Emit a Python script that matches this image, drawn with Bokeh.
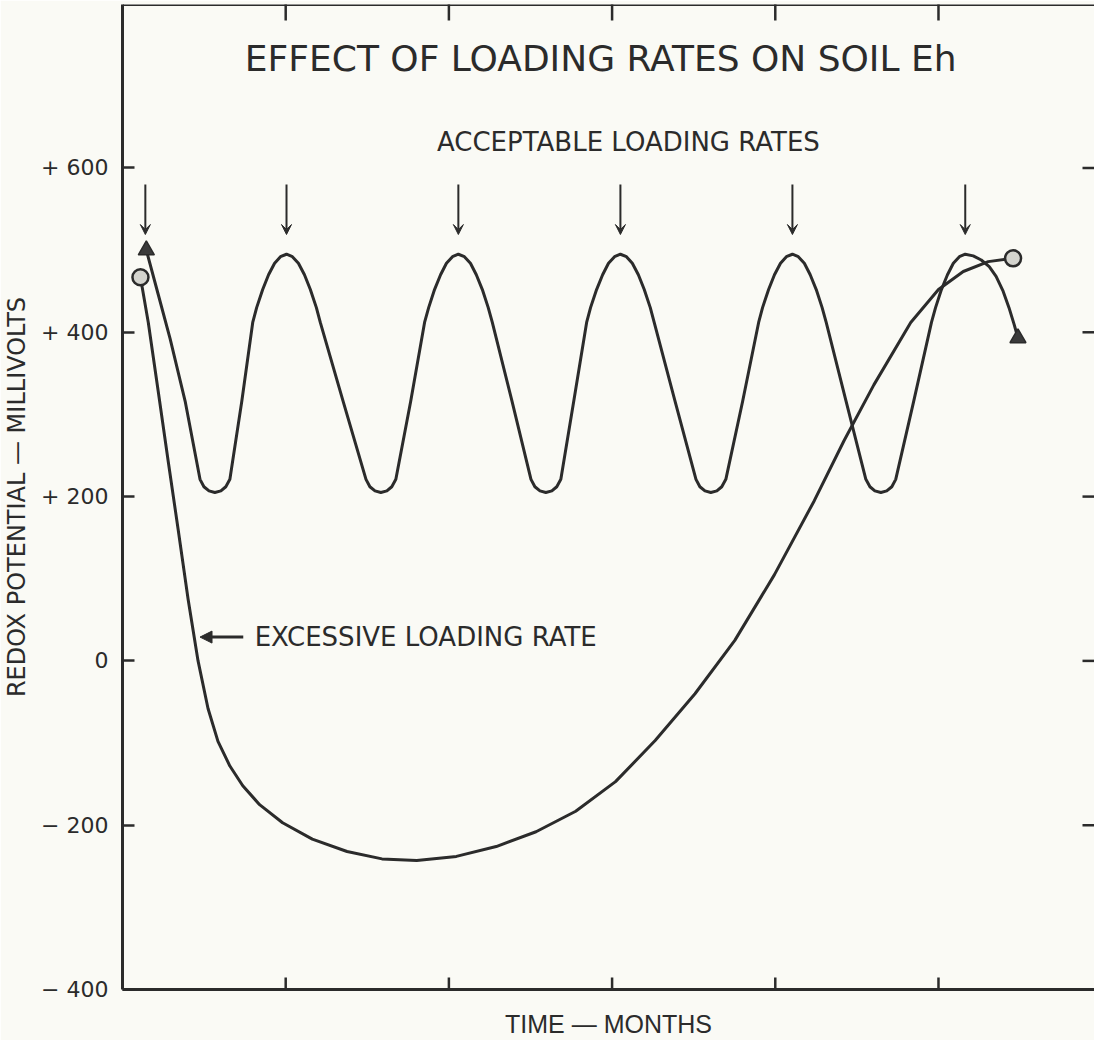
import math
from bokeh.plotting import figure
from bokeh.models import (Range1d, FixedTicker, Label, Arrow, VeeHead, NormalHead,
                          ColumnDataSource, Span)
from bokeh.embed import file_html
from bokeh.resources import INLINE

# ---------------- data (months, millivolts) ----------------
acceptable_month = [
    0.146, 0.219, 0.292, 0.384, 0.475, 0.499, 0.530, 0.566, 0.603, 0.633, 0.658,
    0.731, 0.798, 0.822, 0.859, 0.895, 0.932, 0.968, 1.005, 1.041, 1.078, 1.115, 1.151,
    1.188, 1.212, 1.352, 1.492, 1.516, 1.547, 1.583, 1.620, 1.650, 1.675, 1.766, 1.851,
    1.876, 1.912, 1.949, 1.985, 2.022, 2.058, 2.095, 2.132, 2.168, 2.205, 2.241, 2.266,
    2.387, 2.503, 2.527, 2.558, 2.594, 2.631, 2.661, 2.686, 2.765, 2.844, 2.868, 2.905,
    2.942, 2.978, 3.015, 3.051, 3.088, 3.124, 3.161, 3.197, 3.234, 3.258, 3.386, 3.514,
    3.538, 3.569, 3.605, 3.642, 3.672, 3.697, 3.800, 3.898, 3.922, 3.959, 3.995, 4.032,
    4.068, 4.105, 4.141, 4.178, 4.214, 4.251, 4.287, 4.312, 4.434, 4.555, 4.580, 4.610,
    4.647, 4.683, 4.714, 4.738, 4.848, 4.957, 4.982, 5.018, 5.055, 5.091, 5.128, 5.164,
    5.213, 5.262, 5.311, 5.353, 5.396, 5.432, 5.463, 5.487]
acceptable_mv = [
    500, 446, 392, 316, 221, 212, 207, 205, 207, 212, 221,
    316, 412, 430, 452, 470, 484, 492, 495, 492, 484, 470, 452,
    430, 412, 316, 221, 212, 207, 205, 207, 212, 221, 316, 412,
    430, 452, 470, 484, 492, 495, 492, 484, 470, 452, 430, 412,
    316, 221, 212, 207, 205, 207, 212, 221, 316, 412, 430, 452,
    470, 484, 492, 495, 492, 484, 470, 452, 430, 412, 316, 221,
    212, 207, 205, 207, 212, 221, 316, 412, 430, 452, 470, 484,
    492, 495, 492, 484, 470, 452, 430, 412, 316, 221, 212, 207,
    205, 207, 212, 221, 316, 412, 430, 452, 470, 484, 492, 495,
    493, 488, 480, 468, 450, 430, 410, 393]

excessive_month = [
    0.110, 0.158, 0.219, 0.280, 0.341, 0.402, 0.463, 0.524, 0.585, 0.658, 0.737, 0.840,
    0.981, 1.163, 1.376, 1.590, 1.803, 2.046, 2.290, 2.534, 2.777, 3.021, 3.264, 3.508,
    3.752, 3.995, 4.239, 4.421, 4.604, 4.830, 5.000, 5.152, 5.305, 5.457]
excessive_mv = [
    467, 412, 328, 243, 160, 75, 0, -58, -98, -128, -152, -175,
    -197, -217, -232, -241, -243, -238, -226, -208, -183, -147, -97, -40,
    25, 105, 195, 268, 336, 412, 452, 474, 486, 490]

arrow_month = [0.140, 1.005, 2.058, 3.051, 4.105, 5.164]
arrow_top_mv = 580
arrow_tip_mv = 519

y_ticks = [-400, -200, 0, 200, 400, 600]
y_tick_labels = ["\u2212 400", "\u2212 200", "0", "+ 200", "+ 400", "+ 600"]
x_ticks = [1, 2, 3, 4, 5]
x_min, x_max = 0, 5.956
y_min, y_max = -400, 799

title_text = "EFFECT OF LOADING RATES ON SOIL Eh"
accept_text = "ACCEPTABLE LOADING RATES"
excess_text = "EXCESSIVE LOADING RATE"
x_title = "TIME \u2014 MONTHS"
y_title = "REDOX POTENTIAL \u2014 MILLIVOLTS"

# ---------------- figure ----------------
INK = "#2b2b2b"
BG = "#fafaf5"
FONT = "DejaVu Sans"

p = figure(width=1094, height=1040, x_range=Range1d(x_min, x_max), y_range=Range1d(y_min, y_max),
           output_backend="svg", toolbar_location=None,
           min_border_left=116, min_border_top=4, min_border_bottom=50, min_border_right=0)
p.background_fill_color = BG
p.border_fill_color = BG
p.outline_line_color = None
p.xgrid.visible = False
p.ygrid.visible = False

# left axis
ya = p.yaxis[0]
ya.ticker = FixedTicker(ticks=y_ticks)
ya.major_tick_in = 12
ya.major_tick_out = 0
ya.minor_tick_line_color = None
ya.major_tick_line_width = 2.5
ya.major_tick_line_color = INK
ya.axis_line_width = 3
ya.axis_line_color = INK
ya.major_label_overrides = {t: l for t, l in zip(y_ticks, y_tick_labels)}
ya.major_label_text_font = FONT
ya.major_label_text_font_size = "22px"
ya.major_label_text_color = INK
ya.major_label_standoff = 14
ya.axis_label = y_title
ya.axis_label_text_font = FONT
ya.axis_label_text_font_size = "24px"
ya.axis_label_text_font_style = "normal"
ya.axis_label_text_color = INK
ya.axis_label_standoff = 7

# bottom axis: line + title only; its ticks are drawn as inward dashes below
xa = p.xaxis[0]
xa.ticker = FixedTicker(ticks=[])
xa.major_tick_out = 0
xa.major_tick_in = 0
xa.minor_tick_line_color = None
xa.axis_line_width = 3
xa.axis_line_color = INK
xa.axis_label = x_title
xa.axis_label_text_font = "Liberation Sans"
xa.axis_label_text_font_size = "25px"
xa.axis_label_text_font_style = "normal"
xa.axis_label_text_color = INK
xa.axis_label_standoff = 20

# top border line
p.add_layout(Span(location=y_max, dimension="width", line_color=INK, line_width=3))

# inward tick marks on bottom, top and right borders (outer halves clipped by the frame)
p.scatter(x_ticks, [y_min] * len(x_ticks), marker="dash", angle=math.pi / 2, size=24,
          line_color=INK, line_width=2.5)
p.scatter(x_ticks, [y_max] * len(x_ticks), marker="dash", angle=math.pi / 2, size=32,
          line_color=INK, line_width=2.5)
p.scatter([x_max] * len(y_ticks), y_ticks, marker="dash", size=24,
          line_color=INK, line_width=2.5)

# ---------------- curves ----------------
p.line(acceptable_month, acceptable_mv, line_color=INK, line_width=3, line_join="round")
p.line(excessive_month, excessive_mv, line_color=INK, line_width=3, line_join="round")

p.scatter([acceptable_month[0], acceptable_month[-1]], [acceptable_mv[0], acceptable_mv[-1]],
          marker="triangle", size=16, fill_color="#3a3a3a", line_color=INK, line_width=1.5)
p.scatter([excessive_month[0], excessive_month[-1]], [excessive_mv[0], excessive_mv[-1]],
          marker="circle", size=16, fill_color="#d4d4ce", line_color=INK, line_width=2.5)

# ---------------- annotations ----------------
src = ColumnDataSource(dict(x0=arrow_month, x1=arrow_month,
                            y0=[arrow_top_mv] * len(arrow_month),
                            y1=[arrow_tip_mv] * len(arrow_month)))
p.add_layout(Arrow(source=src, x_start="x0", y_start="y0", x_end="x1", y_end="y1",
                   line_color=INK, line_width=2,
                   end=VeeHead(size=10, fill_color=INK, line_color=INK, line_width=1)))

p.add_layout(Arrow(x_start=0.74, y_start=29, x_end=0.475, y_end=29, line_color=INK, line_width=3,
                   end=NormalHead(size=12, fill_color=INK, line_color=INK)))

p.add_layout(Label(x=2.93, y=733, text=title_text, text_align="center", text_baseline="middle",
                   text_font=FONT, text_font_size="36px", text_color=INK))
p.add_layout(Label(x=3.10, y=632, text=accept_text, text_align="center", text_baseline="middle",
                   text_font=FONT, text_font_size="26px", text_color=INK))
p.add_layout(Label(x=0.81, y=29, text=excess_text, text_align="left", text_baseline="middle",
                   text_font=FONT, text_font_size="26px", text_color=INK))

open("out.html", "w").write(file_html(p, INLINE))
